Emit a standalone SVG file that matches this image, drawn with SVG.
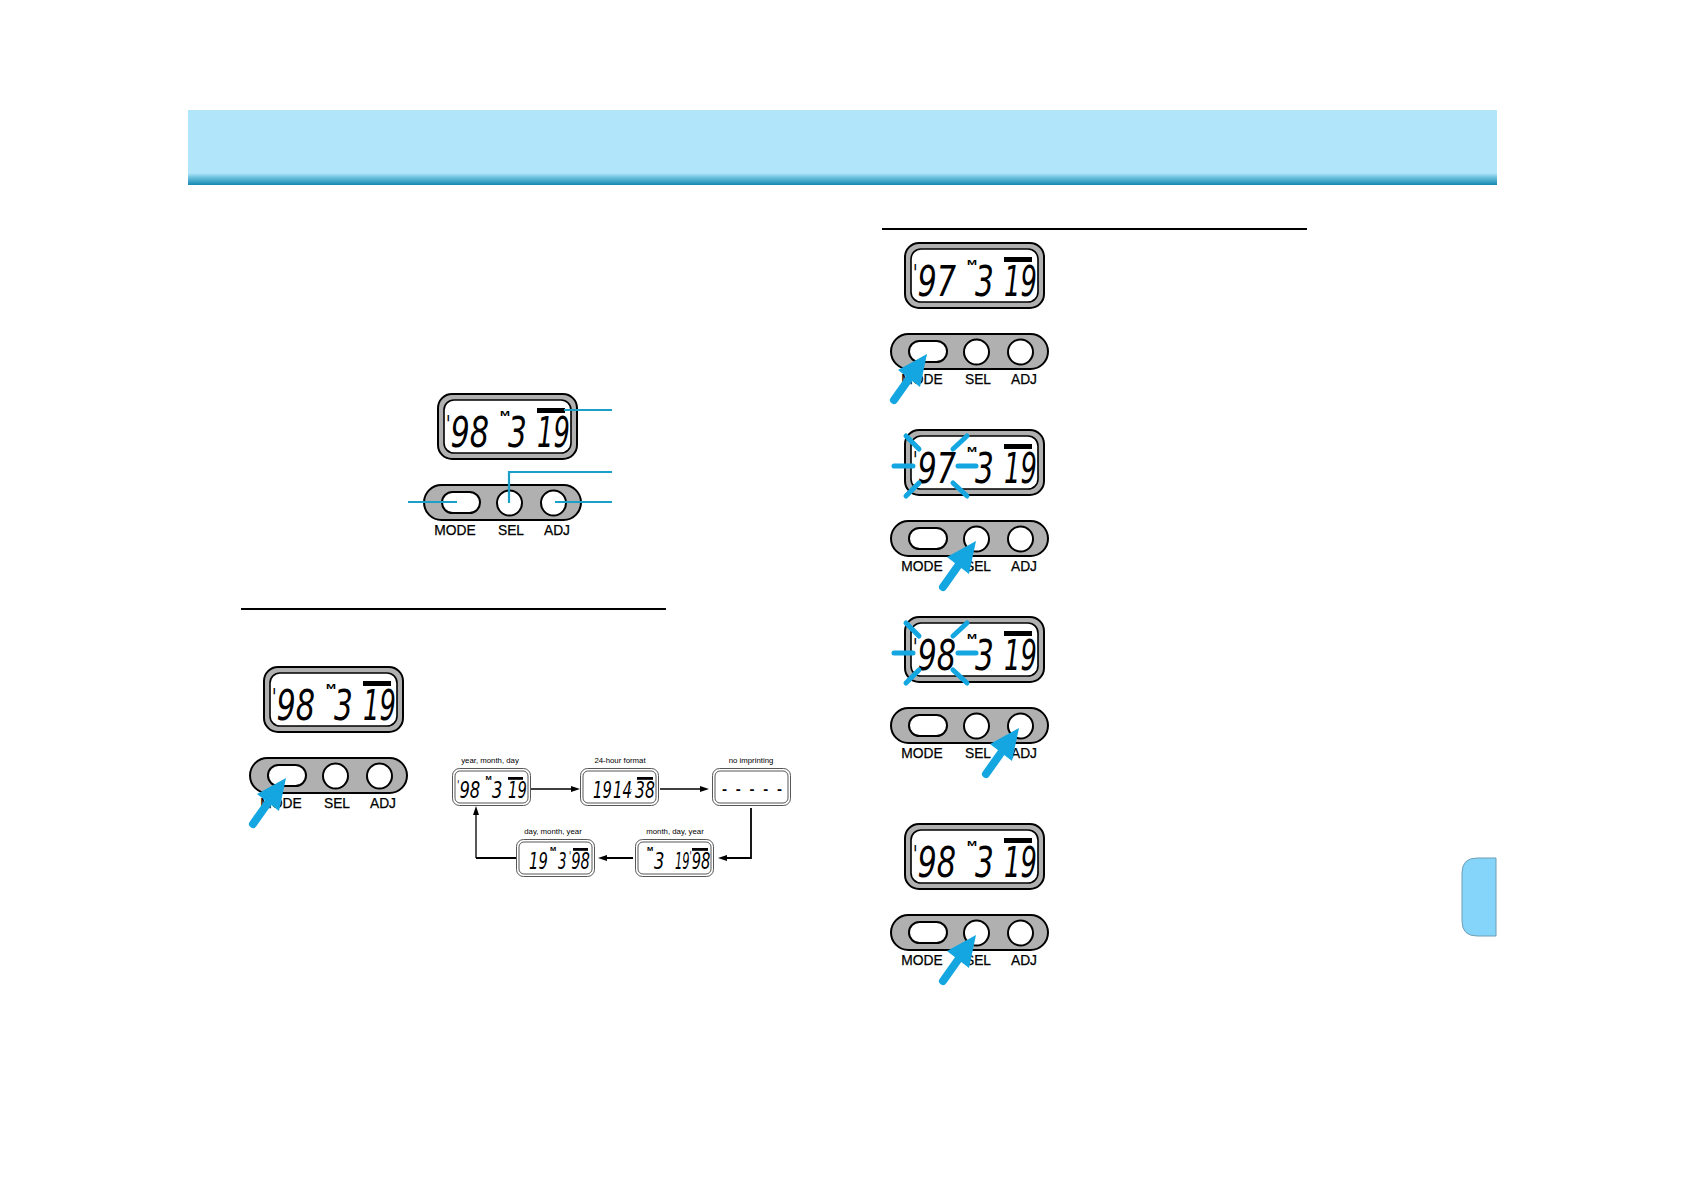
<svg xmlns="http://www.w3.org/2000/svg" width="1684" height="1190" viewBox="0 0 1684 1190">
<style>
.lcd{font-family:"DejaVu Sans",sans-serif;font-style:oblique;font-size:41px;fill:#000}
.m{font-family:"Liberation Sans",Arial,sans-serif;font-weight:bold;font-size:10px;fill:#000}
.lab{font-family:"Liberation Sans",Arial,sans-serif;font-size:13.8px;fill:#000;stroke:#000;stroke-width:.25;text-anchor:middle}
.cap{font-family:"Liberation Sans",Arial,sans-serif;font-size:7.8px;fill:#000;text-anchor:middle}
.lead{stroke:#1a9fc9;stroke-width:2.2;fill:none}
.blink{stroke:#14a6e0;stroke-width:5;stroke-linecap:round;fill:none}
.flow{stroke:#000;stroke-width:1.3;fill:none}
.flowb{stroke:#000;stroke-width:1.8;fill:none}
.rule{stroke:#000;stroke-width:2}
</style>
<defs>
<linearGradient id="hg" x1="0" y1="0" x2="0" y2="1">
<stop offset="0" stop-color="#b1e6fa"/><stop offset=".84" stop-color="#b1e6fa"/><stop offset=".9" stop-color="#6cc1dd"/><stop offset="1" stop-color="#1688b2"/>
</linearGradient>
<symbol id="frame" width="142" height="68" overflow="visible">
<rect x="1" y="1" width="139" height="65" rx="14" fill="#b0b0b0" stroke="#000" stroke-width="2"/>
<rect x="7" y="7" width="127" height="53" rx="10" fill="#fff" stroke="#000" stroke-width="1.600"/>
<rect x="100" y="15" width="28" height="5" fill="#000"/>
</symbol>
<symbol id="small" width="80" height="39" overflow="visible">
<rect x=".5" y=".5" width="78" height="37" rx="7" fill="#fff" stroke="#444" stroke-width=".9"/>
<rect x="3" y="3" width="73" height="32" rx="5" fill="#fff" stroke="#444" stroke-width=".9"/>
</symbol>
<symbol id="pill" width="160" height="38" overflow="visible">
<rect x="1" y="1" width="157" height="35" rx="17.500" fill="#b0b0b0" stroke="#000" stroke-width="2"/>
<rect x="19" y="8" width="38" height="21" rx="10.500" fill="#fff" stroke="#000" stroke-width="2"/>
<circle cx="86.500" cy="19" r="12.500" fill="#fff" stroke="#000" stroke-width="2"/>
<circle cx="130.500" cy="19" r="12.500" fill="#fff" stroke="#000" stroke-width="2"/>
</symbol>
<symbol id="press" overflow="visible" width="1" height="1">
<polygon points="0,0 -29,16 -7,33" fill="#14a6e0"/>
<line x1="-33" y1="46" x2="-16" y2="22" stroke="#14a6e0" stroke-width="8" stroke-linecap="round"/>
</symbol>
<g id="blinks">
<path class="blink" d="M-10 37H9M54 37H72M2 7L15 20M63 7L49 20M2 67L15 54M63 67L49 54"/>
</g>
<g id="bigtext98">
<text class="lcd" transform="translate(9,54) scale(.74,1.02)"><tspan font-size="22" dy="-15">'</tspan><tspan dy="15">98</tspan></text>
</g>
<g id="bigtext97">
<text class="lcd" transform="translate(9,54) scale(.74,1.02)"><tspan font-size="22" dy="-15">'</tspan><tspan dy="15">97</tspan></text>
</g>
<g id="rest">
<text class="m" transform="translate(63,23) scale(1.2,.75)">M</text>
<text class="lcd" transform="translate(71,54) scale(.72,1.02)">3</text>
<text class="lcd" transform="translate(100,54) scale(.63,1.02)">19</text>
</g>
</defs>

<g id="header"><rect x="188" y="110" width="1309" height="75" fill="url(#hg)"/></g>
<g id="tab"><path d="M1496 858H1477Q1462 858 1462 873V921Q1462 936 1477 936H1496Z" fill="#84d5f9" stroke="#6f9fb5" stroke-width="1"/></g>
<line class="rule" x1="241" y1="609" x2="666" y2="609"/>
<line class="rule" x1="882" y1="229" x2="1307" y2="229"/>

<g id="display-main" transform="translate(437,393)"><use href="#frame"/><use href="#bigtext98"/><use href="#rest"/></g>
<g id="panel-main" transform="translate(423,484)">
<use href="#pill"/>
<text class="lab" x="32" y="51">MODE</text><text class="lab" x="88" y="51">SEL</text><text class="lab" x="134" y="51">ADJ</text>
</g>

<g id="display-a" transform="translate(263,666)"><use href="#frame"/><use href="#bigtext98"/><use href="#rest"/></g>
<g id="panel-a" transform="translate(249,757)">
<use href="#pill"/>
<text class="lab" x="32" y="51">MODE</text><text class="lab" x="88" y="51">SEL</text><text class="lab" x="134" y="51">ADJ</text>
<use href="#press" x="37" y="21"/>
</g>

<g id="display-b" transform="translate(904,242)"><use href="#frame"/><use href="#bigtext97"/><use href="#rest"/></g>
<g id="panel-b" transform="translate(890,333)">
<use href="#pill"/>
<text class="lab" x="32" y="51">MODE</text><text class="lab" x="88" y="51">SEL</text><text class="lab" x="134" y="51">ADJ</text>
<use href="#press" x="37" y="21"/>
</g>

<g id="display-c" transform="translate(904,429)"><use href="#frame"/><use href="#bigtext97"/><use href="#rest"/><use href="#blinks"/></g>
<g id="panel-c" transform="translate(890,520)">
<use href="#pill"/>
<text class="lab" x="32" y="51">MODE</text><text class="lab" x="88" y="51">SEL</text><text class="lab" x="134" y="51">ADJ</text>
<use href="#press" x="86" y="21"/>
</g>

<g id="display-d" transform="translate(904,616)"><use href="#frame"/><use href="#bigtext98"/><use href="#rest"/><use href="#blinks"/></g>
<g id="panel-d" transform="translate(890,707)">
<use href="#pill"/>
<text class="lab" x="32" y="51">MODE</text><text class="lab" x="88" y="51">SEL</text><text class="lab" x="134" y="51">ADJ</text>
<use href="#press" x="129" y="21"/>
</g>

<g id="display-e" transform="translate(904,823)"><use href="#frame"/><use href="#bigtext98"/><use href="#rest"/></g>
<g id="panel-e" transform="translate(890,914)">
<use href="#pill"/>
<text class="lab" x="32" y="51">MODE</text><text class="lab" x="88" y="51">SEL</text><text class="lab" x="134" y="51">ADJ</text>
<use href="#press" x="86" y="21"/>
</g>

<g id="fmt-ymd" transform="translate(452,768)">
<use href="#small"/>
<text class="cap" x="38" y="-5">year, month, day</text>
<rect x="56" y="9" width="15" height="2.800" fill="#000"/>
<text class="lcd" transform="translate(5,30) scale(.4,.57)"><tspan font-size="22" dy="-15">'</tspan><tspan dy="15">98</tspan></text>
<text class="m" transform="translate(33.500,12) scale(.75,.45)">M</text>
<text class="lcd" transform="translate(40,30) scale(.4,.57)">3</text>
<text class="lcd" transform="translate(56,30) scale(.36,.57)">19</text>
</g>
<g id="fmt-24h" transform="translate(580,768)">
<use href="#small"/>
<text class="cap" x="40" y="-5">24-hour format</text>
<rect x="57" y="9" width="16" height="2.800" fill="#000"/>
<text class="lcd" transform="translate(13,30) scale(.36,.57)">19</text>
<text class="lcd" transform="translate(33,30) scale(.36,.57)">14</text>
<text class="m" transform="translate(50,24) scale(.6,.6)">:</text>
<text class="lcd" transform="translate(55,30) scale(.38,.57)">38</text>
</g>
<g id="fmt-none" transform="translate(712,768)">
<use href="#small"/>
<text class="cap" x="39" y="-5">no imprinting</text>
<text x="10" y="26" font-family="Liberation Sans, Arial, sans-serif" font-weight="bold" font-size="15" textLength="60" lengthAdjust="spacing">- - - - -</text>
</g>
<g id="fmt-mdy" transform="translate(635,839)">
<use href="#small"/>
<text class="cap" x="40" y="-5">month, day, year</text>
<rect x="57" y="9" width="16" height="2.800" fill="#000"/>
<text class="m" transform="translate(12,12) scale(.75,.45)">M</text>
<text class="lcd" transform="translate(19,30) scale(.4,.57)">3</text>
<text class="lcd" transform="translate(40,30) scale(.28,.57)">19</text>
<text class="lcd" transform="translate(54.500,30) scale(.36,.57)"><tspan font-size="22" dy="-15">'</tspan><tspan dy="15">98</tspan></text>
</g>
<g id="fmt-dmy" transform="translate(516,839)">
<use href="#small"/>
<text class="cap" x="37" y="-5">day, month, year</text>
<rect x="57" y="9" width="15" height="2.800" fill="#000"/>
<text class="lcd" transform="translate(13,30) scale(.36,.57)">19</text>
<text class="m" transform="translate(34,12) scale(.75,.45)">M</text>
<text class="lcd" transform="translate(42,30) scale(.33,.57)">3</text>
<text class="lcd" transform="translate(53,30) scale(.36,.57)"><tspan font-size="22" dy="-15">'</tspan><tspan dy="15">98</tspan></text>
</g>

<g id="connectors">
<path class="lead" d="M408 502H457M509 503V472H612M555 502H612M564 410H612"/>
<path class="flow" d="M531 789H572M660 789H704M476 858V812"/>
<path class="flowb" d="M751 808V858H724M633 858H604M516 858H476"/>
<path d="M580 789L571 786V792ZM709 789L700 786V792ZM476 806L473 815H479ZM718 858L727 855V861ZM598 858L607 855V861Z" fill="#000"/>
</g>
</svg>
